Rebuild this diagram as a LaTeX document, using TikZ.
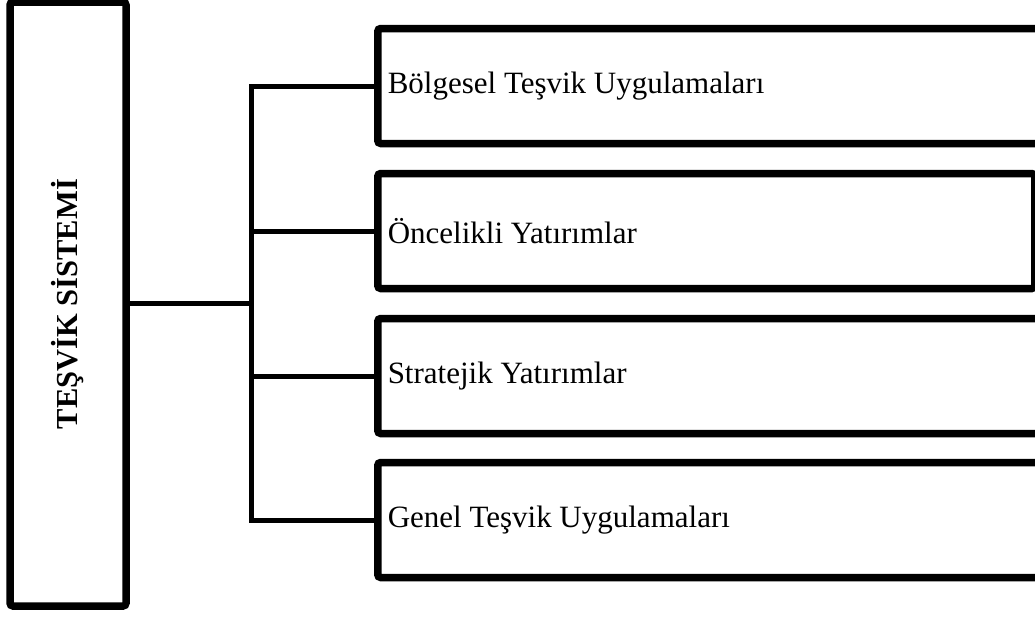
\documentclass[tikz,border=0pt]{standalone}
\usepackage{fontspec}
\setmainfont{Liberation Serif}
\usetikzlibrary{shadows}

\begin{document}
\begin{tikzpicture}[x=1pt, y=1pt,
		mainbox/.style={draw, line width=7.5pt, rounded corners=3pt, fill=white,
			drop shadow={shadow xshift=2pt, shadow yshift=-3pt, fill=black!30}},
		branchbox/.style={mainbox, anchor=west, minimum height=115pt, inner xsep=10pt,
			align=flush left, font=\fontsize{31}{37}\selectfont},
		conn/.style={line width=5pt, line join=miter}]
		\useasboundingbox (0,0) rectangle (1035,-616);
		\node (sys) [mainbox, minimum width=116pt, minimum height=604pt] at (68,-304) {};
		\node (systitle) [rotate=90, font=\fontsize{30.5}{36}\selectfont\bfseries] at (sys) {TEŞVİK SİSTEMİ};
		\node (b1) [branchbox, minimum width=680pt, text width=660pt] at (374,-86)  {Bölgesel Teşvik Uygulamaları};
		\node (b2) [branchbox, minimum width=657pt, text width=637pt] at (374,-231) {Öncelikli Yatırımlar};
		\node (b3) [branchbox, minimum width=680pt, text width=660pt] at (374,-376) {Stratejik Yatırımlar};
		\node (b4) [branchbox, minimum width=680pt, text width=660pt] at (374,-520) {Genel Teşvik Uygulamaları};
		\coordinate (fork) at (251,-303);
		\draw[conn] (sys.east |- fork) -- (fork);
		\draw[conn] (b1.west) -| (fork) |- (b4.west);
		\foreach \b in {b2, b3}
			\draw[conn] (fork |- \b.west) -- (\b.west);
\end{tikzpicture}
\end{document}
